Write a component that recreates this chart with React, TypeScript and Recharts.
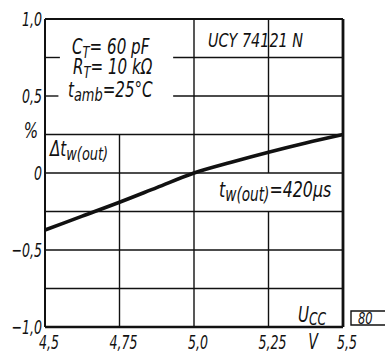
import { Label, Line, LineChart, ReferenceLine, XAxis, YAxis } from "recharts";

// supply voltage U_CC in V
const voltages = [4.5, 4.625, 4.75, 4.875, 5.0, 5.125, 5.25, 5.375, 5.5];
// relative change of output pulse width, %
const deltaTw = [-0.37, -0.28, -0.19, -0.095, 0, 0.07, 0.135, 0.195, 0.25];

const xTicks = [4.5, 4.75, 5.0, 5.25, 5.5];
const xTickLabels = ["4,5", "4,75", "5,0", "5,25", "5,5"];
const yTicks = [-1, -0.5, 0, 0.5, 1];
const yTickLabels = ["\u22121,0", "\u22120,5", "0", "0,5", "1,0"];

// grid lines, some of them interrupted by the text blocks
const hGrid: [number, number, number][] = [
  [0.75, 4.5, 4.55],
  [0.75, 4.93, 5.5],
  [0.5, 4.5, 4.545],
  [0.5, 4.93, 5.5],
  [0.25, 4.5, 5.5],
  [0, 4.5, 5.5],
  [-0.25, 4.5, 5.5],
  [-0.5, 4.5, 5.5],
  [-0.75, 4.5, 5.5],
];
const vGrid: [number, number, number][] = [
  [4.75, -1, 0.25],
  [5.0, -1, 1],
  [5.25, -1, -0.25],
  [5.25, 0, 1],
];

const FONT = "'DejaVu Sans Condensed', 'DejaVu Sans', sans-serif";
const INK = "#111";

const data = voltages.map((u, i) => ({ u, dt: deltaTw[i] }));

// narrow italic lettering like the drawing stencil
function T({ x, y, size = 20, sx = 0.75, anchor = "start", children }: any) {
  return (
    <g transform={`translate(${x},${y}) scale(${sx},1)`}>
      <text
        x={0}
        y={0}
        textAnchor={anchor}
        fontSize={size}
        fontFamily={FONT}
        fontStyle="italic"
        fill={INK}
      >
        {children}
      </text>
    </g>
  );
}

function YTick({ x, y, payload }: any) {
  const i = yTicks.indexOf(payload.value);
  return (
    <T x={x} y={y + 7} size={20} sx={0.7} anchor="end">
      {yTickLabels[i]}
    </T>
  );
}

function XTick({ x, y, payload }: any) {
  const i = xTicks.indexOf(payload.value);
  return (
    <T x={x + 4} y={y + 20} size={20} sx={0.7} anchor="middle">
      {xTickLabels[i]}
    </T>
  );
}

export default function App() {
  return (
    <div style={{ position: "absolute", left: 0, top: 0, width: 385, height: 353, background: "#fff" }}>
      <LineChart width={385} height={353} data={data} margin={{ top: 19, right: 42, bottom: 0, left: 0 }}>
        <XAxis
          dataKey="u"
          type="number"
          domain={[4.5, 5.5]}
          ticks={xTicks}
          tick={<XTick />}
          tickLine={false}
          axisLine={false}
          tickSize={0}
          height={26}
          interval={0}
        >
          <Label
            content={() => (
              <T x={313} y={349} size={21} sx={0.75} anchor="middle">
                V
              </T>
            )}
          />
        </XAxis>
        <YAxis
          type="number"
          domain={[-1, 1]}
          ticks={yTicks}
          tick={<YTick />}
          tickLine={false}
          axisLine={false}
          tickSize={0}
          tickMargin={3}
          width={45}
          interval={0}
        >
          <Label
            content={() => (
              <T x={38} y={138} size={21} sx={0.8} anchor="end">
                %
              </T>
            )}
          />
        </YAxis>
        {hGrid.map(([y, x1, x2], i) => (
          <ReferenceLine
            key={"h" + i}
            segment={[
              { x: x1, y },
              { x: x2, y },
            ]}
            stroke={INK}
            strokeWidth={1.4}
          />
        ))}
        {vGrid.map(([x, y1, y2], i) => (
          <ReferenceLine
            key={"v" + i}
            segment={[
              { x, y: y1 },
              { x, y: y2 },
            ]}
            stroke={INK}
            strokeWidth={1.4}
          />
        ))}
        <ReferenceLine y={1} stroke={INK} strokeWidth={2} />
        <ReferenceLine y={-1} stroke={INK} strokeWidth={2.5} />
        <ReferenceLine x={4.5} stroke={INK} strokeWidth={2} />
        <ReferenceLine x={5.5} stroke={INK} strokeWidth={2.8} />
        <Line
          type="monotone"
          dataKey="dt"
          stroke={INK}
          strokeWidth={3.6}
          dot={false}
          isAnimationActive={false}
        />
      </LineChart>
      <svg
        width={385}
        height={353}
        style={{ position: "absolute", left: 0, top: 0, pointerEvents: "none" }}
      >
        <T x={72} y={54} size={21} sx={0.8}>
          C<tspan fontSize={16} dy={4}>T</tspan>
          <tspan dy={-4}>= 60 pF</tspan>
        </T>
        <T x={73} y={74} size={21} sx={0.8}>
          R<tspan fontSize={16} dy={4}>T</tspan>
          <tspan dy={-4}>= 10 k&#937;</tspan>
        </T>
        <T x={68} y={97} size={21} sx={0.8}>
          t<tspan fontSize={18} dy={4}>amb</tspan>
          <tspan dy={-4}>=25&#176;C</tspan>
        </T>
        <T x={208} y={47} size={20} sx={0.8}>
          UCY 74121 N
        </T>
        <T x={50} y={156} size={21} sx={0.8}>
          &#916;t<tspan fontSize={18} dy={4}>w(out)</tspan>
        </T>
        <T x={219} y={197} size={22} sx={0.8}>
          t<tspan fontSize={19} dy={4}>w(out)</tspan>
          <tspan dy={-4}>=420&#181;s</tspan>
        </T>
        <T x={298} y={322} size={21} sx={0.8}>
          U<tspan fontSize={17} dy={3}>CC</tspan>
        </T>
        <T x={358} y={324} size={16} sx={0.8}>
          80
        </T>
        <path d="M 388 311 L 351 311 L 351 325 L 388 325" fill="none" stroke={INK} strokeWidth={1.4} />
      </svg>
    </div>
  );
}
